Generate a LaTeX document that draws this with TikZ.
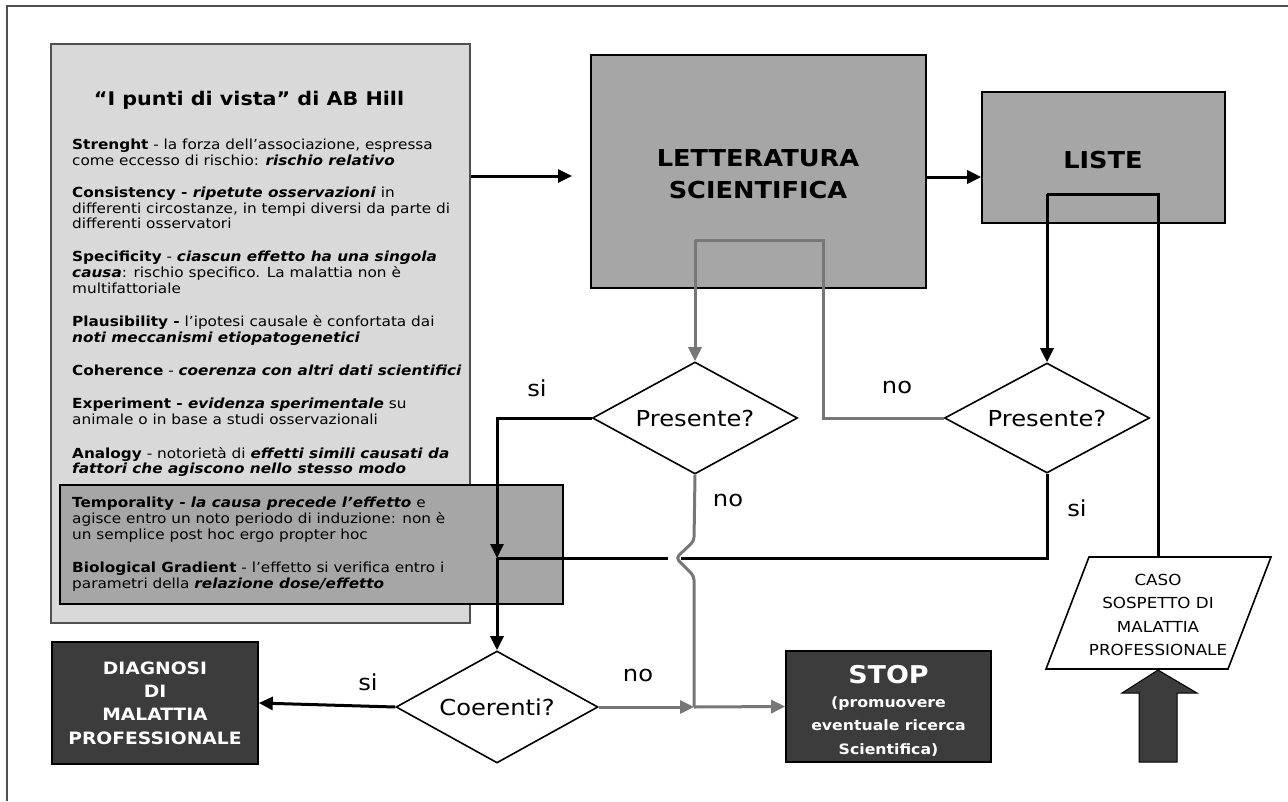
\documentclass[tikz,border=0pt]{standalone}
\usepackage{fontspec}
\setmainfont{DejaVu Sans}[FakeStretch=1.1]
\usetikzlibrary{shapes.geometric,arrows.meta}
\definecolor{lgray}{HTML}{D9D9D9}
\definecolor{mgray}{HTML}{A6A6A6}
\definecolor{dgray}{HTML}{3C3C3C}
\definecolor{cgray}{HTML}{777777}
\definecolor{bgray}{HTML}{505050}
\newcommand{\hb}[1]{\textbf{#1}}
\newcommand{\hbi}[1]{\textbf{\textit{#1}}}
\tikzset{
  tip/.style={-{Triangle[length=14pt,width=13pt]}},
  blk/.style={line width=3pt,black},
  gry/.style={line width=3pt,cgray},
  boxa/.style={rectangle,inner sep=0pt,line width=1.6pt},
  dec/.style={diamond,draw=black,line width=1.6pt,fill=white,inner sep=0pt},
  dectxt/.style={inner sep=0pt,font=\fontsize{22}{24}\selectfont},
  txt/.style={anchor=base west,inner sep=0pt,font=\fontsize{13.9}{15}\selectfont},
  lbl/.style={inner sep=0pt,font=\fontsize{22}{24}\selectfont},
}
\begin{document}
\begin{tikzpicture}[x=1pt,y=-1pt]
\useasboundingbox (0,0) rectangle (1288,801);
\draw[bgray,line width=1.5pt] (7,801) -- (7,6) -- (1288,6);
% left box
\node[boxa,draw=bgray,fill=lgray,minimum width=419pt,minimum height=579pt] (hill) at (260.5,333.5) {};
\node[boxa,draw=black,fill=mgray,minimum width=503pt,minimum height=119pt] (temp) at (311.5,544.5) {};
\node[inner sep=0pt,font=\fontsize{18.8}{20}\selectfont\bfseries] (title) at (249,100) {“I punti di vista” di AB Hill};
\node[txt] (t1) at (72,149) {\hb{Strenght} - la forza dell’associazione, espressa};
\node[txt] (t2) at (72,165) {come eccesso di rischio: \hbi{rischio relativo}};
\node[txt] (t3) at (72,197) {\hb{Consistency - \textit{ripetute osservazioni}} in};
\node[txt] (t4) at (72,213) {differenti circostanze, in tempi diversi da parte di};
\node[txt] (t5) at (72,228) {differenti osservatori};
\node[txt] (t6) at (72,261) {\hb{Specificity} - \hbi{ciascun effetto ha una singola}};
\node[txt] (t7) at (72,277) {\hbi{causa}: rischio specifico. La malattia non è};
\node[txt] (t8) at (72,293) {multifattoriale};
\node[txt] (t9) at (72,326) {\hb{Plausibility -} l’ipotesi causale è confortata dai};
\node[txt] (t10) at (72,342) {\hbi{noti meccanismi etiopatogenetici}};
\node[txt] (t11) at (72,375) {\hb{Coherence} - \hbi{coerenza con altri dati scientifici}};
\node[txt] (t12) at (72,408) {\hb{Experiment - \textit{evidenza sperimentale}} su};
\node[txt] (t13) at (72,424) {animale o in base a studi osservazionali};
\node[txt] (t14) at (72,458) {\hb{Analogy} - notorietà di \hbi{effetti simili causati da}};
\node[txt] (t15) at (72,473) {\hbi{fattori che agiscono nello stesso modo}};
\node[txt] (t16) at (72,507) {\hb{Temporality - \textit{la causa precede l’effetto}} e};
\node[txt] (t17) at (72,523) {agisce entro un noto periodo di induzione: non è};
\node[txt] (t18) at (72,539) {un semplice post hoc ergo propter hoc};
\node[txt] (t19) at (72,572) {\hb{Biological Gradient} - l’effetto si verifica entro i};
\node[txt] (t20) at (72,588) {parametri della \hbi{relazione dose/effetto}};
% main boxes
\node[boxa,draw=black,fill=mgray,minimum width=335pt,minimum height=233pt] (lett) at (758.5,171.5) {};
\node[inner sep=0pt,align=center,font=\fontsize{23.3}{32}\selectfont\bfseries] (letttxt) at (758,174) {LETTERATURA\\SCIENTIFICA};
\node[boxa,draw=black,fill=mgray,minimum width=243pt,minimum height=131pt] (liste) at (1103.5,157.5) {};
\node[inner sep=0pt,font=\fontsize{23.3}{24}\selectfont\bfseries] (listetxt) at (1103,160) {LISTE};
\node[boxa,draw=black,fill=dgray,minimum width=206pt,minimum height=122pt,text=white,align=center,font=\fontsize{17}{23.3}\selectfont\bfseries] (diag) at (155,703) {DIAGNOSI\\DI\\MALATTIA\\PROFESSIONALE};
\node[boxa,draw=black,fill=dgray,minimum width=205pt,minimum height=111pt] (stop) at (888.5,706.5) {};
\node[inner sep=0pt,text=white,align=center,font=\fontsize{14.3}{23.5}\selectfont\bfseries] (stoptxt) at (888.5,711) {{\fontsize{24.5}{26}\selectfont STOP}\\(promuovere\\eventuale ricerca\\Scientifica)};
% decisions
\node[dec,minimum width=205pt,minimum height=112pt] (pres1) at (695,418) {};
\node[dectxt] (pres1t) at (pres1.center) {Presente?};
\node[dec,minimum width=205pt,minimum height=110pt] (pres2) at (1047,418) {};
\node[dectxt] (pres2t) at (pres2.center) {Presente?};
\node[dec,minimum width=202pt,minimum height=112pt] (coer) at (497,707) {};
\node[dectxt] (coert) at (coer.center) {Coerenti?};
% caso parallelogram
\coordinate (c1) at (1089,557);
\coordinate (c2) at (1271,557);
\coordinate (c3) at (1228,669);
\coordinate (c4) at (1046,669);
\draw[line width=1.6pt,fill=white] (c1) -- (c2) -- (c3) -- (c4) -- cycle;
\node[inner sep=0pt,align=center,font=\fontsize{15.2}{23.3}\selectfont] (caso) at (1158,615) {CASO\\SOSPETTO DI\\MALATTIA\\PROFESSIONALE};
% big arrow
\coordinate (ba) at (1158,670);
\draw[fill=dgray,line width=1pt] (ba) -- (1197,693) -- (1177,693) -- (1177,762) -- (1139,762) -- (1139,693) -- (1122,693) -- cycle;
% connectors
\coordinate (hillout) at (hill.east |- 0,176);
\coordinate (lettin) at (572,176);
\draw[blk,tip] (hillout) -- (lettin);
\draw[blk,tip] (lett.east |- 0,177) -- (liste.west |- 0,177);
% gray from letteratura
\coordinate (g1) at (695,240);
\coordinate (g2) at (823,240);
\draw[gry,tip] (g1) -- (pres1.north);
\draw[gry] (g1) -- (g2) -- (g2 |- pres2.west) -- (pres2.west);
% black from liste / caso
\coordinate (l1) at (1047,194);
\coordinate (l2) at (1158,194);
\draw[blk,tip] (l1) -- (pres2.north);
\draw[blk] (l1) -- (l2) -- (l2 |- c1);
% si from pres1
\coordinate (j) at (497,558);
\draw[blk,tip] (pres1.west) -- (pres1.west -| j) -- (j);
% si from pres2 with gap
\coordinate (gapR) at (681,558);
\coordinate (gapL) at (668,558);
\draw[blk] (pres2.south) -- (pres2.south |- j) -- (gapR);
\draw[blk] (gapL) -- (j);
\draw[blk,tip] (j) -- (coer.north);
% no from pres1 down with jump
\coordinate (m) at (694,707);
\draw[gry,rounded corners=4pt] (pres1.south) -- (694,541) -- (676,558) -- (694,576) -- (m);
\draw[gry,tip] (coer.east) -- (m);
\draw[gry,tip] (m) -- (stop.west);
\draw[blk,tip] (coer.west) -- (diag.east);
% labels
\node[lbl] (si1) at (537,388) {si};
\node[lbl] (no1) at (897,387) {no};
\node[lbl] (no2) at (728,500) {no};
\node[lbl] (si2) at (1077,508) {si};
\node[lbl] (si3) at (368,682) {si};
\node[lbl] (no3) at (638,675) {no};
\end{tikzpicture}
\end{document}
